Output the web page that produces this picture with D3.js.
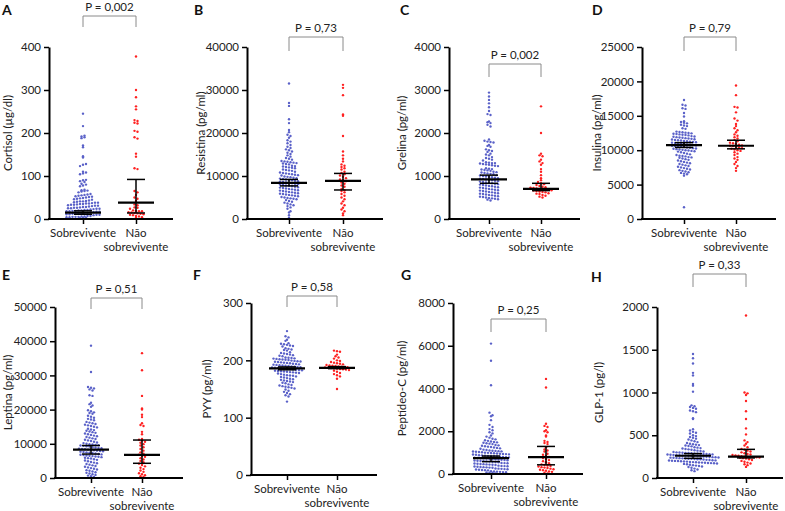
<!DOCTYPE html>
<html>
<head>
<meta charset="utf-8">
<script src="https://cdn.jsdelivr.net/npm/d3@7"></script>
<style>
  body { margin: 0; background: #fff; }
  svg { font-family: Lato, "Open Sans", sans-serif; }
</style>
</head>
<body>
<svg id="chart" width="785" height="511"></svg>
<script>
// groups
var categories = ["Sobrevivente", "Não sobrevivente"];

// A - cortisol (µg/dl)
var cortisolSob = [2,3,3,4,4,5,5,5,6,6,7,7, 9,10,10,11,11,12,12,13,13,14,14,15, 16,17,17,18,18,19,19,20,20,21,21,22,
  23,24,24,25,25,26,26,27,28,28,29, 30,31,31,32,33,33,34,35,35,36,36, 37,38,38,39,40,41,41,42,43,
  45,46,47,48,49,50,51,52, 53,54,55,56,57,58, 62,64,65,66,67,68, 76,78,80,82, 86,88,90,91,
  104,106,108,110, 123,126,128, 143,146, 167,171, 188,190,192,194, 216, 245];
var cortisolNao = [378,300,283,262,255,230,228,224,222,205,203,190,187,152,145,118,116,65,62,56,50,47,42,
  34,32,27,26,24,20,19,18,18,16,15,14,13,12,11,10,9,7,6,4,3];

// B - resistina (pg/ml)
var resistinaSob = [31500, 27000,26300, 23200,22300, 20700,20200, 19600,19300,18900, 18300,18000,17600,17200,
  16800,16500,16200,16000, 15700,15400,15100,14800,14500, 14200,14000,13800,
  13500,13400,13300,13200,13100,13000,12900,12800,12700, 12400,12300,12200,12100,12000,11900,11800,
  11500,11400,11300,11200,11000, 10800,10700,10600,10500,10400,10300,10200,10100,
  9900,9800,9700,9600,9500,9400,9300,9200,9100,9000, 8900,8800,8700,8600,8500,8400,8300,8200,8100,8000,
  7900,7800,7700,7600,7500,7400,7300,7200,7100,7000, 6900,6800,6700,6600,6500,6400,6300,6200,6100,
  6000,5900,5800,5700,5600,5500,5400,5300, 5100,5000,4900,4800,4700,4600, 4400,4200,4000,3800,3600,
  3400,3200,3000, 2700,2400, 1800,1500, 900,300];
var resistinaNao = [31200,30500,28800,24300,24000,19300,15700,14800,14000,13400,12700,12400,12100,11800,11500,
  11000,10700,10400,10100,9800,9500,9200,9000,8800,8500,8200,7800,7500,7000,6700,6500,6200,5800,5400,
  5000,4600,4100,3600,3200,2600,2200,1800,1300,900];

// C - grelina (pg/ml)
var grelinaSob = [2940,2850,2770,2690,2600,2510,2440,2420,2270,2250,2230,2190,2150,
  1850,1820,1800,1790,1780, 1720,1700,1680, 1620,1600,1580,1560, 1520,1500,1480, 1440,1420,1400,1380,1360,
  1320,1310,1300,1300,1290,1280,1270,1260,1250,1240,1230, 1180,1170,1160,1150,1140,1130,1120,
  1100,1090,1080,1070,1060,1050,1040, 1020,1010,1000,990,980,970,960,950,
  940,930,920,910,900,890,880,870,860,850, 840,830,820,810,800,790,780,770,760,750,
  740,730,720,710,700,690,680,670,660, 650,640,630,620,610,600,590,580,570,
  560,550,540,530,520,510,500, 490,480,470,460,450,430];
var grelinaNao = [2620,2000,1520,1480,1460,1380,1340,1300,1260,1160,1100,1020,950,900,860,830,810,790,770,750,
  740,730,720,710,700,695,690,680,670,660,650,640,630,620,600,590,580,560,540,520,500];

// D - insulina (pg/ml)
var insulinaSob = [17300, 16600,16500, 16100,16000, 15400, 14900, 14200,14100,14000,13900, 13700,13600,13500, 13200,13100,
  12700,12650,12600,12550,12500,12450,12400,12350,12300,12250,12200,12150,
  12050,12000,11950,11900,11850,11800,11750,11700,11650,11600,11550,
  11500,11450,11400,11350,11300,11250,11200,11150,11100,11050,11000,
  10950,10900,10850,10800,10750,10700,10650,10600,10550,10500,10450,10400,
  10350,10300,10250,10200,10150,10100,10050,10000,9950,9900,9850,
  9800,9700,9600,9500,9400,9300,9200,9150,9100,9000,8950, 8900,8800,8700,8600,8500,8400,8300,8200,8100,8000,
  7900,7800,7700,7600,7500,7400,7300, 7200,7100,7000,6900,6800, 6700,6600,6500, 6300, 1700];
var insulinaNao = [19400,18000,16300,16200,15500,14600,14300,13800,13500,13200,12900,12600,12300,12100,11900,11700,
  11500,11300,11100,11000,10900,10800,10700,10650,10600,10500,10400,10300,10200,10100,10000,9900,9700,9500,
  9300,9000,8800,8600,8300,8000,7700,7400,7000];

// E - leptina (pg/ml)
var leptinaSob = [38700, 31000, 26600,26400,26200,25900,25600, 24200,24000, 22000,21600,21200,20800,
  19800,19500,19200,19000,18800, 18200,17900,17600,17300,17100,16900,
  16400,16200,16000,15800,15600,15400,15200,15000,14800, 14400,14200,14000,13800,13600,13400,13200,13000,12800,
  12600,12400,12200,12000,11800,11600,11400,11200,11000, 10800,10600,10400,10200,10000,9900,9800,9700,9600,9500,9400,
  9300,9200,9000,8900,8800,8700,8600,8500,8400,8300,8200, 8100,8000,7900,7800,7700,7600,7500,7400,7300,7200,
  7000,6900,6800,6700,6600,6500,6400,6300,6200,6100, 5900,5800,5700,5500,5300,5100,4900,4700,4500,4300,
  4100,3900,3700,3500,3300,3100,2900,2700,2500, 2300,2100,1900,1700,1500,1300,1100,900,700,500,300];
var leptinaNao = [36500,31500,24000,20300,20000,18500,17800,16000,15500,15200,13500,12800,11400,11200,11000,10600,
  10300,9900,9500,9000,8500,8000,7500,7100,6800,6500,6200,5800,5400,5000,4600,4200,3800,3400,3000,2600,
  2200,1800,1400,1100,800,500,300];

// F - PYY (pg/ml)
var pyySob = [251, 242,240, 236,234, 230,229,228,227,226,225,224, 221,220,219,218,217,
  214,213,212,211,210,209,208,207, 205,204.5,204,203.5,203,202.5,202,201.5,201,200.5,
  199.5,199,198.5,198,197.5,197,196.5,196,195.5,195, 194,193.5,193,192.5,192,191.5,191,190.5,190,189.5,189,
  188.5,188,187.5,187,186.5,186,185.5,185,184.5,184,183.5, 183,182.5,182,181.5,181,180.5,180,179.5,179,178.5,178,
  177,176,175,174,173.5,173,172,171,170,169, 168,167,166,165,164,163,162,161,160,
  158,157,156,155,154,153,152,151, 149,147,145,143,141,139,137, 128];
var pyyNao = [217,216,215,210,207,205,203,200,199,197,196,195,194,193,192,191,190.5,190,189.5,189,188.5,188,
  187.5,187,186.5,186,185.5,185,184.5,184,183,182,180,178,176,174,172,168,150];

// G - peptideo-C (pg/ml)
var peptideoSob = [6100,5300,4150, 2870,2750,2700,2520, 2300,2200,2100,2050, 1950,1900,1800,
  1750,1700,1650,1620,1580,1550, 1520,1500,1480,1460,1440,1420,1400,
  1360,1340,1320,1300,1280,1260,1240,1220,1200,1180, 1140,1120,1100,1090,1080,1070,1060,1050,1040,1030,1020,
  1000,990,980,970,960,950,940,930,920,910,900, 880,870,860,850,840,830,820,810,800,790,780,
  760,750,740,730,720,710,700,690,680,670, 650,640,630,620,610,600,590,580,570,560,550,
  520,510,500,490,480,470,460,450,440,430,420, 390,380,370,360,350,340,330,320,310,300,290,
  260,250,240,230,220,210,200,190,180,170, 130,120,110,100,90,80,70,60,50, 20];
var peptideoNao = [4450,4050,2350,2250,2200,2050,2000,1950,1800,1750,1550,1500,1450,1400,1250,1150,1100,1050,
  950,900,850,800,750,700,650,600,550,500,450,420,400,380,350,320,300,280,250,220,200,180,150,120,100,60,30];

// H - GLP-1 (pg/l)
var glpSob = [1450,1400,1340,1230,1200,1100,1080,1010, 850,840,830,820,810, 790,780,770, 700,690,
  570,555,540,530,520, 500,490,480,470,460,450,440,430, 420,410,400,395,390,385,380,375,370,
  360,355,350,345,340,335,330,325,320,315, 310,305,300,298,296,294,292,290,288,286,284,
  282,280,278,276,274,272,270,268,266,264,262,260, 258,256,254,252,250,248,246,244,242,240,238,
  236,234,232,230,228,226,224,222,220,218,216, 212,210,208,206,204,202,200,198,196,194,192,
  188,186,184,182,180,178,176,174,172,170, 165,160,155,150,145,140,135, 128,120,110,100,90,80];
var glpNao = [1900,1000,990,970,900,780,690,580,510,440,420,400,380,360,340,330,320,310,300,290,280,275,270,
  265,260,255,250,248,246,244,242,240,236,232,228,220,210,200,190,180,170,160,150,130];

// median and 95% CI [median, low, high] per group
var cortisolStats  = [[15, 11, 19], [38, 14, 92]];
var resistinaStats = [[8400, 7700, 9200], [8850, 6750, 10600]];
var grelinaStats   = [[920, 830, 1020], [700, 660, 830]];
var insulinaStats  = [[10750, 10400, 11100], [10650, 10200, 11450]];
var leptinaStats   = [[8300, 7000, 9500], [6750, 4300, 11100]];
var pyyStats       = [[186, 183.5, 188.5], [187, 185.5, 189]];
var peptideoStats  = [[740, 580, 840], [790, 430, 1290]];
var glpStats       = [[260, 230, 285], [250, 235, 335]];

var letters = ["A", "B", "C", "D", "E", "F", "G", "H"];
var yLabels = ["Cortisol (µg/dl)", "Resistina (pg/ml)", "Grelina (pg/ml)", "Insulina (pg/ml)",
  "Leptina (pg/ml)", "PYY (pg/ml)", "Peptídeo-C (pg/ml)", "GLP-1 (pg/l)"];
var pValues = ["P = 0,002", "P = 0,73", "P = 0,002", "P = 0,79", "P = 0,51", "P = 0,58", "P = 0,25", "P = 0,33"];
var yMax = [400, 40000, 4000, 25000, 50000, 300, 8000, 2000];
var yStep = [100, 10000, 1000, 5000, 10000, 100, 2000, 500];

var seriesSob = [cortisolSob, resistinaSob, grelinaSob, insulinaSob, leptinaSob, pyySob, peptideoSob, glpSob];
var seriesNao = [cortisolNao, resistinaNao, grelinaNao, insulinaNao, leptinaNao, pyyNao, peptideoNao, glpNao];
var stats = [cortisolStats, resistinaStats, grelinaStats, insulinaStats, leptinaStats, pyyStats, peptideoStats, glpStats];

// panel geometry (pixels)
var layout = [
  {ax: 49,  top: 47,  bot: 219, end: 173, c: [83, 136],  br: 16,  drop: 27,  lx: 12,  lt: [2, 15]},
  {ax: 247, top: 47,  bot: 219, end: 383, c: [289, 343], br: 37,  drop: 51,  lx: 205, lt: [194, 15]},
  {ax: 449, top: 47,  bot: 219, end: 580, c: [489, 541], br: 64,  drop: 77,  lx: 406, lt: [400, 15]},
  {ax: 642, top: 47,  bot: 219, end: 776, c: [684, 736], br: 37,  drop: 51,  lx: 601, lt: [592, 15]},
  {ax: 55,  top: 307, bot: 478, end: 183, c: [91, 142],  br: 298, drop: 309, lx: 12,  lt: [2, 280]},
  {ax: 251, top: 303, bot: 475, end: 377, c: [287, 337], br: 296, drop: 307, lx: 211, lt: [193, 280]},
  {ax: 453, top: 303, bot: 474, end: 583, c: [491, 546], br: 319, drop: 332, lx: 406, lt: [401, 280]},
  {ax: 657, top: 307, bot: 478, end: 783, c: [693, 746], br: 274, drop: 287, lx: 603, lt: [591, 282]}
];

var colors = ["#5a61c8", "#ff2121"];
var svg = d3.select("#chart");

// Prism-like scatter: values sharing a pixel row are spread side by side
function swarm(values, y, cx) {
  var rowH = 3, dx = 3;
  var rows = d3.group(values, function(v) { return Math.round(y(v) / rowH); });
  var pts = [];
  rows.forEach(function(vs) {
    vs.forEach(function(v, i) {
      pts.push({x: cx + (i - (vs.length - 1) / 2) * dx, y: y(v)});
    });
  });
  return pts;
}

layout.forEach(function(p, k) {
  var g = svg.append("g");
  var y = d3.scaleLinear().domain([0, yMax[k]]).range([p.bot, p.top]);
  var x = d3.scaleOrdinal().domain(categories).range(p.c);

  // dots
  [seriesSob[k], seriesNao[k]].forEach(function(vals, gi) {
    g.append("g").selectAll("circle")
      .data(swarm(vals, y, x(categories[gi])))
      .enter().append("circle")
      .attr("cx", function(d) { return d.x; })
      .attr("cy", function(d) { return d.y; })
      .attr("r", 1.2)
      .attr("fill", colors[gi]);
  });

  // median + CI
  stats[k].forEach(function(s, gi) {
    var cx = x(categories[gi]);
    var e = g.append("g").attr("stroke", "#000");
    e.append("line").attr("x1", cx).attr("x2", cx).attr("y1", y(s[1])).attr("y2", y(s[2])).attr("stroke-width", 1.5);
    e.append("line").attr("x1", cx - 9).attr("x2", cx + 9).attr("y1", y(s[1])).attr("y2", y(s[1])).attr("stroke-width", 1.5);
    e.append("line").attr("x1", cx - 9).attr("x2", cx + 9).attr("y1", y(s[2])).attr("y2", y(s[2])).attr("stroke-width", 1.5);
    e.append("line").attr("x1", cx - 18).attr("x2", cx + 18).attr("y1", y(s[0])).attr("y2", y(s[0])).attr("stroke-width", 2.2);
  });

  // y axis
  var yAxis = g.append("g")
    .attr("transform", "translate(" + p.ax + ",0)")
    .call(d3.axisLeft(y).tickValues(d3.range(0, yMax[k] + 1, yStep[k])).tickFormat(d3.format("d"))
      .tickSize(5).tickSizeOuter(0).tickPadding(3));
  yAxis.select(".domain").attr("stroke-width", 2);
  yAxis.selectAll(".tick line").attr("stroke-width", 1.5);
  yAxis.selectAll("text").attr("font-size", 11.5).attr("fill", "#222").attr("font-family", "Lato, sans-serif");

  // x axis
  var xAxis = g.append("g")
    .attr("transform", "translate(0," + p.bot + ")")
    .call(d3.axisBottom(x).tickSize(5).tickSizeOuter(0).tickFormat(""));
  xAxis.select(".domain").remove();
  xAxis.selectAll(".tick line").attr("stroke-width", 1.5);
  xAxis.append("line").attr("x1", p.ax - 1).attr("x2", p.end).attr("stroke", "#000").attr("stroke-width", 2);

  categories.forEach(function(c, gi) {
    var t = g.append("text")
      .attr("x", x(c)).attr("y", p.bot + 18)
      .attr("text-anchor", "middle").attr("font-size", 11.5).attr("fill", "#222");
    if (gi === 0) {
      t.text(c);
    } else {
      var w = c.split(" ");
      t.append("tspan").attr("x", x(c)).text(w[0]);
      t.append("tspan").attr("x", x(c)).attr("dy", 14).text(w[1]);
    }
  });

  // y label
  g.append("text")
    .attr("transform", "translate(" + p.lx + "," + ((p.top + p.bot) / 2) + ") rotate(-90)")
    .attr("text-anchor", "middle").attr("font-size", 11.5).attr("fill", "#222")
    .text(yLabels[k]);

  // bracket + p value
  g.append("path")
    .attr("d", "M" + p.c[0] + "," + p.drop + "V" + p.br + "H" + p.c[1] + "V" + p.drop)
    .attr("fill", "none").attr("stroke", "#8a8a8a").attr("stroke-width", 1);
  g.append("text")
    .attr("x", (p.c[0] + p.c[1]) / 2).attr("y", p.br - 5)
    .attr("text-anchor", "middle").attr("font-size", 11.5).attr("fill", "#222")
    .text(pValues[k]);

  // panel letter
  g.append("text")
    .attr("x", p.lt[0]).attr("y", p.lt[1])
    .attr("font-size", 14).attr("font-weight", "bold").attr("fill", "#111")
    .text(letters[k]);
});
</script>
</body>
</html>
